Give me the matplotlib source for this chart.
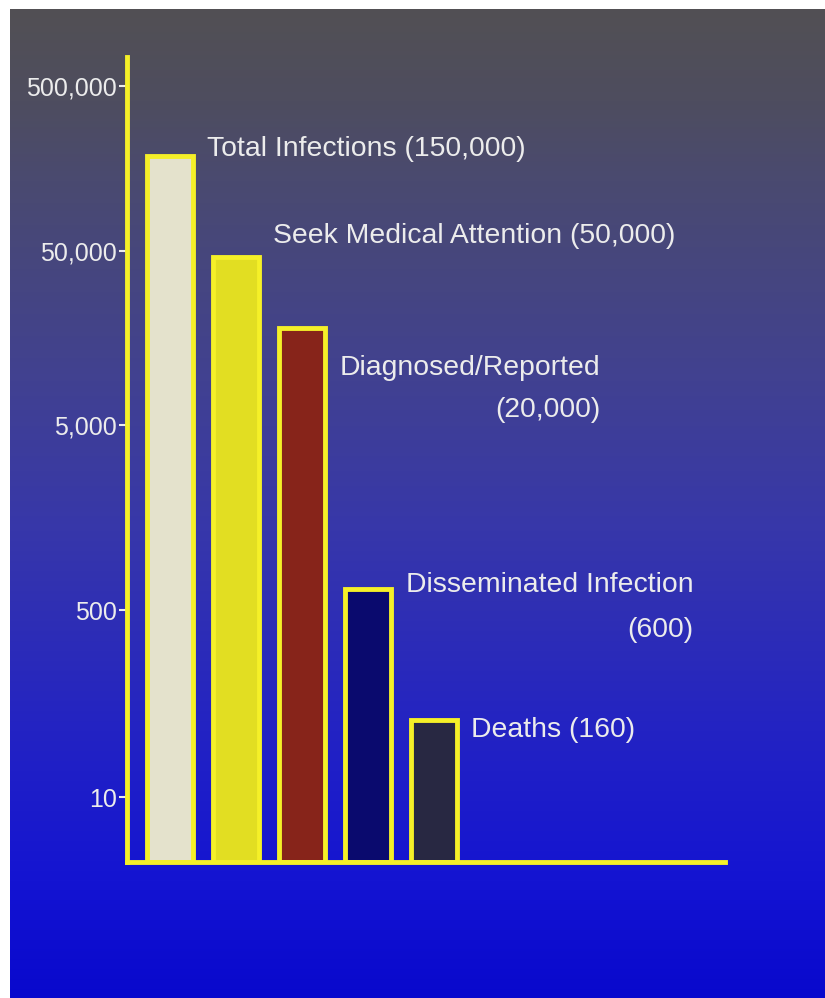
import numpy as np
import matplotlib
matplotlib.use("Agg")
import matplotlib.pyplot as plt
from matplotlib import font_manager
from matplotlib.ticker import NullLocator

# data
categories = ["Total Infections (150,000)",
              "Seek Medical Attention (50,000)",
              "Diagnosed/Reported\n(20,000)",
              "Disseminated Infection\n(600)",
              "Deaths (160)"]
bar_values = [188000, 46000, 18000, 650, 50]
bar_colors = ["#e4e2cc", "#e2de22", "#87241a", "#0a0a6e", "#282842"]
tick_values = [10, 500, 5000, 50000, 500000]
tick_labels = ["10", "500", "5,000", "50,000", "500,000"]

# the axis of the original is not a true log axis: ticks sit at fixed heights
knot_values = [2, 10, 500, 5000, 50000, 500000, 750000]
knot_pos = [0, 65, 252, 438, 612, 777, 806]
y_bottom, y_top = 2, 750000

# label placement, pixels from the bar's top-right corner
label_dx = [14, 14, 15, 15, 14]
label_dy = [7, 21, -61, -18, -10]
label_spacing = [1.2, 1.2, 1.8, 1.95, 1.2]

lk = np.log10(knot_values)
kp = np.array(knot_pos, dtype=float)


def fwd(v):
    v = np.asarray(v, dtype=float)
    lv = np.log10(np.clip(v, 1e-12, None))
    out = np.interp(lv, lk, kp)
    s0 = (kp[1] - kp[0]) / (lk[1] - lk[0])
    s1 = (kp[-1] - kp[-2]) / (lk[-1] - lk[-2])
    out = np.where(lv < lk[0], kp[0] + (lv - lk[0]) * s0, out)
    out = np.where(lv > lk[-1], kp[-1] + (lv - lk[-1]) * s1, out)
    return out


def inv(p):
    p = np.asarray(p, dtype=float)
    out = np.interp(p, kp, lk)
    s0 = (lk[1] - lk[0]) / (kp[1] - kp[0])
    s1 = (lk[-1] - lk[-2]) / (kp[-1] - kp[-2])
    out = np.where(p < kp[0], lk[0] + (p - kp[0]) * s0, out)
    out = np.where(p > kp[-1], lk[-1] + (p - kp[-1]) * s1, out)
    return 10 ** out


# font: narrow Arial-like if there is one
try:
    font_manager.findfont("Liberation Sans Narrow", fallback_to_default=False)
    family = ["Liberation Sans Narrow", "Liberation Sans", "DejaVu Sans"]
    tick_size, label_size = 21.5, 24.5
except ValueError:
    family = ["Liberation Sans", "DejaVu Sans"]
    tick_size, label_size = 18, 20.4
plt.rcParams["font.family"] = family

W, H = 825, 998
fig = plt.figure(figsize=(W / 100, H / 100), dpi=100, facecolor="white")

# gradient background
stops_y = np.array([9, 100, 180, 380, 530, 730, 880, 998], dtype=float)
stops_c = np.array([(82, 80, 84), (78, 77, 95), (74, 74, 112), (65, 65, 145),
                    (55, 55, 170), (35, 35, 195), (20, 20, 210), (8, 8, 205)]) / 255
ys = np.arange(9, 998)
grad = np.stack([np.interp(ys, stops_y, stops_c[:, k]) for k in range(3)], axis=-1)
grad = grad[:, None, :]
bg = fig.add_axes([10 / W, 0, (W - 10) / W, (H - 9) / H])
bg.imshow(grad, aspect="auto", extent=(0, 1, 0, 1))
bg.axis("off")

# main axes
left, right, top, base = 127, 725, 57, 862
ax = fig.add_axes([left / W, (H - base) / H, (right - left) / W, (base - top) / H])
ax.patch.set_alpha(0)
ax.set_yscale("function", functions=(fwd, inv))
ax.set_ylim(y_bottom, y_top)

x = np.arange(len(bar_values))
spacing = 66.0
ax.set_xlim(-(170 - left) / spacing, (right - 170) / spacing)
width = 46 / spacing

yellow = "#f5f028"
bars = ax.bar(x, np.array(bar_values) - y_bottom, bottom=y_bottom, width=width,
              color=bar_colors, edgecolor=yellow, linewidth=3.5, zorder=3)

text_color = "#ececec"
for i, (name, val) in enumerate(zip(categories, bar_values)):
    ax.annotate(name, xy=(x[i] + width / 2, val),
                xytext=(label_dx[i], label_dy[i]), textcoords="offset pixels",
                ha="left", va="center", multialignment="right",
                color=text_color, fontsize=label_size,
                linespacing=label_spacing[i], annotation_clip=False)

ax.set_yticks(tick_values)
ax.set_yticklabels(tick_labels)
ax.yaxis.set_minor_locator(NullLocator())
ax.set_xticks([])
ax.tick_params(axis="y", colors=text_color, labelsize=tick_size,
               length=6, width=1.5, pad=1)

for s in ["top", "right"]:
    ax.spines[s].set_visible(False)
for s in ["left", "bottom"]:
    ax.spines[s].set_color(yellow)
    ax.spines[s].set_linewidth(3.5)
    ax.spines[s].set_zorder(4)

fig.savefig("out.png", dpi=100, facecolor=fig.get_facecolor())
